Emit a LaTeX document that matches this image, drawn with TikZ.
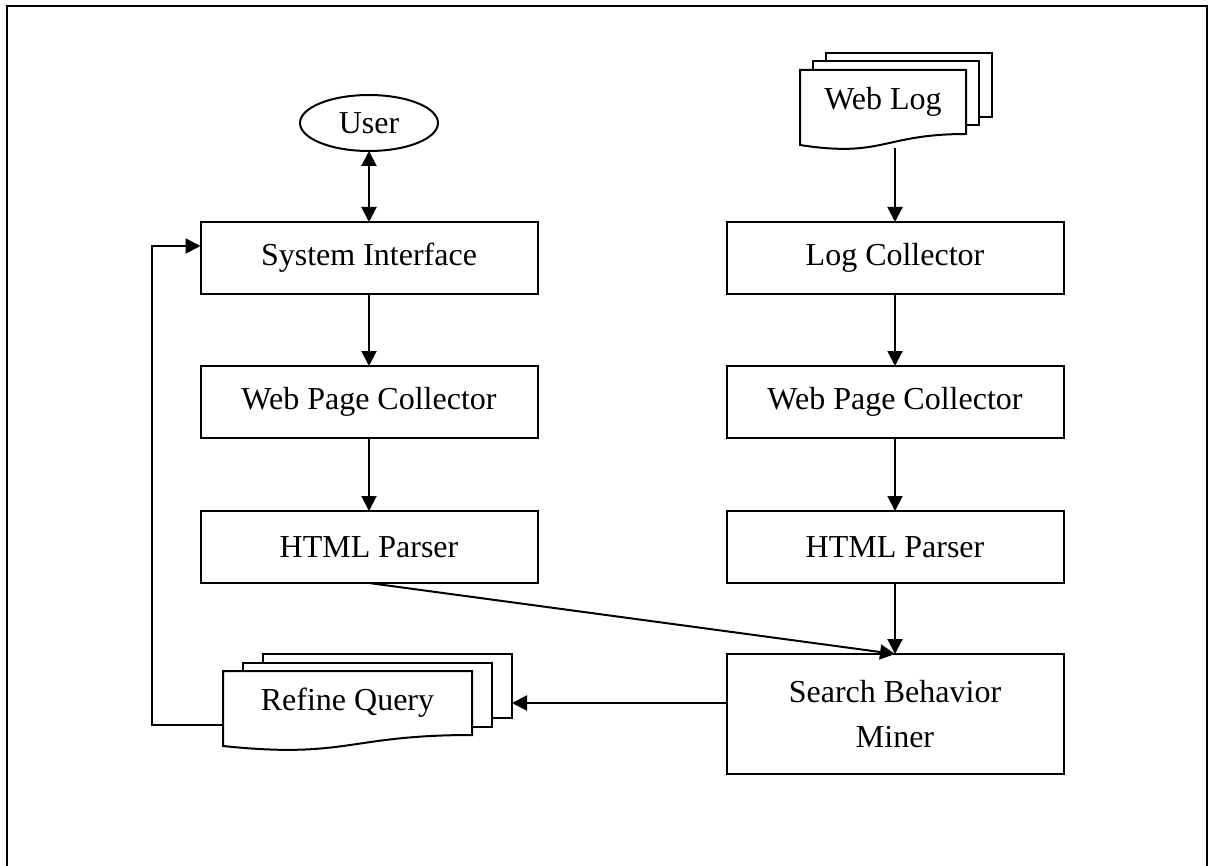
\documentclass[tikz,border=0pt]{standalone}
\usepackage{fontspec}
\setmainfont{Liberation Serif}
\usetikzlibrary{arrows.meta,backgrounds,calc,positioning,shapes.geometric}

% outline of a document page with a wavy lower edge
\newcommand{\docpage}[1]{%
  (#1.north west) -- (#1.north east) -- (#1.south east)
  .. controls (#1.south) and ($(#1.south)+(0,24)$) .. ($(#1.south west)+(0,11)$) -- cycle}

% stack of three pages behind a doc node, #2 = horizontal shift per page
\newcommand{\docstack}[2]{%
  \begin{scope}[on background layer]
    \draw[page] ($(#1.north west)+(2*#2,-17)$) rectangle ($(#1.south east)+(2*#2,-17)$);
    \draw[page] ($(#1.north west)+(#2,-8.5)$) rectangle ($(#1.south east)+(#2,-8.5)$);
    \draw[page] \docpage{#1};
  \end{scope}}

\begin{document}
\begin{tikzpicture}
          [x=0.5pt,y=-0.5pt,line width=1pt,
            every node/.style={font=\fontsize{16}{22.5}\selectfont,inner sep=0pt,outer sep=0pt},
            box/.style={rectangle,draw,minimum width=168.5pt,minimum height=36pt},
            doc/.style={rectangle,minimum height=32pt},
            page/.style={draw,fill=white,line width=1pt},
            arr/.style={-{Triangle[length=7.5pt,width=7.5pt]}},
          ]

          \useasboundingbox (0,0) rectangle (1209,866);
          \draw[line width=1.2pt] (7,870) -- (7,6) -- (1207,6) -- (1207,870);

          % left column
          \node[ellipse,draw,minimum width=69pt,minimum height=28pt] (user) at (369,123) {User};
          \node[box] (si) at (369,258) {System Interface};
          \node[box] (wpc1) at (369,402) {Web Page Collector};
          \node[box] (hp1) at (369,547) {HTML Parser};
          \node[doc,minimum width=124.5pt] (rq) at (347.5,703) {Refine Query};

          % right column
          \node[doc,minimum width=83pt] (wl) at (883,102) {Web Log};
          \node[box] (lc) at (895,258) {Log Collector};
          \node[box] (wpc2) at (895,402) {Web Page Collector};
          \node[box] (hp2) at (895,547) {HTML Parser};
          \node[box,minimum height=60pt,align=center] (miner) at (895,714) {Search Behavior\\Miner};

          \docstack{wl}{13}
          \docstack{rq}{20}

          \draw[{Triangle[length=7.5pt,width=7.5pt]}-{Triangle[length=7.5pt,width=7.5pt]}] (user.south) -- (si.north);
          \draw[arr] (si) -- (wpc1);
          \draw[arr] (wpc1) -- (hp1);
          \draw[arr] (hp1.south) -- (miner.north);
          \draw[arr] ($(wl.south -| lc.north)+(0,14)$) -- (lc.north);
          \draw[arr] (lc) -- (wpc2);
          \draw[arr] (wpc2) -- (hp2);
          \draw[arr] (hp2) -- (miner);
          \draw[arr] (miner.west |- rq) -- ($(rq.east)+(40,0)$);
          \draw[arr] ($(rq.west)+(0,22)$) -- ++(-71,0) |- ($(si.west)+(0,-12)$);
        \end{tikzpicture}
\end{document}
